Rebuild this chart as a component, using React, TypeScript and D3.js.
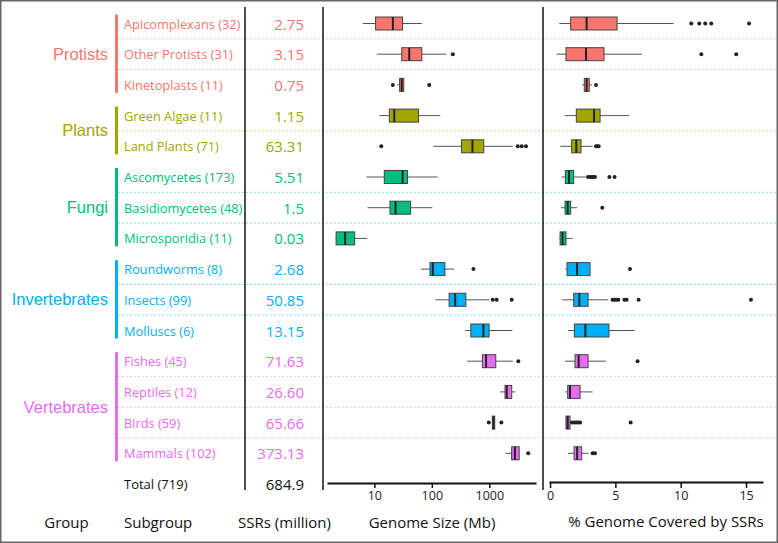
import React, { useEffect, useRef } from "react";
import * as d3 from "d3";

const groups = ["Protists", "Plants", "Fungi", "Invertebrates", "Vertebrates"];
const groupColors = ["#F8766D", "#A3A500", "#00BF7D", "#00B0F6", "#E76BF3"];

const subgroups = [
  "Apicomplexans", "Other Protists", "Kinetoplasts", "Green Algae", "Land Plants",
  "Ascomycetes", "Basidiomycetes", "Microsporidia", "Roundworms", "Insects",
  "Molluscs", "Fishes", "Reptiles", "Birds", "Mammals",
];
const subgroupCounts = [32, 31, 11, 11, 71, 173, 48, 11, 8, 99, 6, 45, 12, 59, 102];
const subgroupGroup = [0, 0, 0, 1, 1, 2, 2, 2, 3, 3, 3, 4, 4, 4, 4];
const ssrMillions = [
  "2.75", "3.15", "0.75", "1.15", "63.31", "5.51", "1.5", "0.03", "2.68", "50.85",
  "13.15", "71.63", "26.60", "65.66", "373.13",
];
const totalLabel = "Total (719)";
const totalSsr = "684.9";

// [lower whisker, q1, median, q3, upper whisker] in Mb
const genomeStats = [
  [6.3, 10.5, 21, 31, 67],
  [11, 30, 40.5, 67, 178],
  [25, 27.5, 30, 32.5, 33],
  [12.2, 18.2, 22.2, 58.8, 140],
  [107, 328, 509, 803, 2560],
  [7.3, 14.9, 31, 37.8, 126],
  [7.6, 18.7, 23.4, 42.7, 102],
  [2.1, 2.16, 3.1, 4.55, 7.5],
  [65, 93, 104, 169, 248],
  [115, 200, 255, 391, 1000],
  [380, 477, 791, 993, 2518],
  [412, 759, 879, 1296, 2560],
  [1540, 1880, 2013, 2456, 2837],
  [1130, 1130, 1185, 1245, 1245],
  [1923, 2449, 2793, 3311, 3311],
];
const genomeOutliers = [
  [], [232], [21, 90], [], [13.2, 3126, 3667, 4353], [], [], [], [530],
  [1148, 1347, 2456], [], [3200], [], [980, 1622], [4753],
];

// [lower whisker, q1, median, q3, upper whisker] in % of genome
const coverageStats = [
  [0.71, 1.58, 2.8, 5.13, 9.46],
  [0.5, 1.22, 2.75, 4.13, 7.04],
  [2.45, 2.62, 2.8, 3.0, 3.21],
  [1.12, 2.01, 3.37, 3.83, 6.07],
  [0.79, 1.65, 2.01, 2.37, 3.26],
  [0.89, 1.17, 1.45, 1.81, 2.75],
  [0.84, 1.15, 1.35, 1.58, 2.07],
  [0.7, 0.77, 0.95, 1.22, 1.73],
  [1.17, 1.3, 2.07, 3.06, 3.06],
  [0.92, 1.81, 2.24, 2.91, 4.46],
  [1.38, 1.86, 2.7, 4.51, 6.47],
  [1.15, 1.91, 2.19, 2.91, 4.28],
  [1.17, 1.35, 1.53, 2.3, 3.26],
  [1.22, 1.22, 1.35, 1.53, 1.6],
  [1.38, 1.84, 2.07, 2.42, 2.95],
];
const coverageOutliers = [
  [10.81, 11.42, 11.88, 12.34, 15.23],
  [11.58, 14.25],
  [3.52],
  [],
  [3.52, 3.62, 3.72],
  [2.91, 3.05, 3.2, 3.31, 3.44, 4.54, 4.94],
  [4.0],
  [],
  [6.12],
  [4.79, 4.92, 5.07, 5.23, 5.69, 5.86, 6.78, 15.38],
  [],
  [6.7],
  [],
  [1.68, 1.86, 2.01, 2.17, 2.3, 6.17],
  [3.26, 3.44],
];

const genomeTicks = [10, 100, 1000];
const coverageTicks = [0, 5, 10, 15];
const columnTitles = ["Group", "Subgroup", "SSRs (million)", "Genome Size (Mb)", "% Genome Covered by SSRs"];

const W = 778;
const H = 543;
const SANS = "'Open Sans', sans-serif";
const ARIAL = "'Liberation Sans', Arial, sans-serif";

export default function App() {
  const gAxisRef = useRef<SVGGElement>(null);
  const cAxisRef = useRef<SVGGElement>(null);

  const rowKeys = [...subgroups, "__total"];
  const y = d3.scalePoint<string>().domain(rowKeys).range([23.5, 23.5 + 15 * 30.7]);
  const xG = d3.scaleLog().domain([1.5, 6500]).range([327, 536]);
  const xC = d3.scaleLinear().domain([-0.08, 16.3]).range([549, 763]);
  const axisY = 483;
  const boxH = 13;

  useEffect(() => {
    const style = (g: any) => {
      g.select(".domain").attr("stroke", "#111").attr("stroke-width", 2);
      g.selectAll(".tick line").attr("stroke", "#111").attr("stroke-width", 1.5);
      g.selectAll(".tick text")
        .attr("font-family", SANS)
        .attr("font-size", 12.5)
        .attr("fill", "#222");
    };
    if (gAxisRef.current) {
      const g = d3.select(gAxisRef.current);
      g.call(
        d3.axisBottom(xG).tickValues(genomeTicks).tickFormat(d3.format("d") as any).tickSize(5).tickSizeOuter(0)
      );
      style(g);
    }
    if (cAxisRef.current) {
      const g = d3.select(cAxisRef.current);
      g.call(d3.axisBottom(xC).tickValues(coverageTicks).tickFormat(d3.format("d") as any).tickSize(6).tickSizeOuter(0));
      style(g);
    }
  }, []);

  const sep: { y: number; color: string }[] = [];
  for (let i = 0; i < subgroups.length - 1; i++) {
    if (subgroupGroup[i] === subgroupGroup[i + 1]) {
      sep.push({ y: ((y(subgroups[i]) as number) + (y(subgroups[i + 1]) as number)) / 2, color: groupColors[subgroupGroup[i]] });
    }
  }

  const groupSpans = groups.map((name, gi) => {
    const idx = subgroupGroup.map((g, i) => (g === gi ? i : -1)).filter((i) => i >= 0);
    const y0 = (y(subgroups[idx[0]]) as number) - 9;
    const y1 = (y(subgroups[idx[idx.length - 1]]) as number) + 8;
    return { name, color: groupColors[gi], y0, y1 };
  });

  const renderBox = (
    stats: number[],
    outs: number[],
    sx: (v: number) => number,
    cy: number,
    color: string,
    key: string
  ) => {
    const [lo, q1, med, q3, hi] = stats;
    return (
      <g key={key}>
        <line x1={sx(lo)} x2={sx(q1)} y1={cy} y2={cy} stroke="#555" strokeWidth={1} />
        <line x1={sx(q3)} x2={sx(hi)} y1={cy} y2={cy} stroke="#555" strokeWidth={1} />
        <rect
          x={sx(q1)}
          y={cy - boxH / 2}
          width={Math.max(1, sx(q3) - sx(q1))}
          height={boxH}
          fill={color}
          stroke="#444"
          strokeWidth={1}
        />
        <line x1={sx(med)} x2={sx(med)} y1={cy - boxH / 2} y2={cy + boxH / 2} stroke="#222" strokeWidth={2} />
        {outs.map((o, j) => (
          <circle key={j} cx={sx(o)} cy={cy} r={2} fill="#222" />
        ))}
      </g>
    );
  };

  return (
    <div style={{ position: "absolute", left: 0, top: 0 }}>
      <svg width={W} height={H} style={{ display: "block" }}>
        <rect x={0} y={0} width={W} height={H} fill="#fff" />
        {/* separators */}
        {sep.map((s, i) => (
          <line
            key={i}
            x1={118}
            x2={W - 2}
            y1={s.y}
            y2={s.y}
            stroke={s.color}
            strokeOpacity={0.45}
            strokeWidth={1}
            strokeDasharray="2,2"
          />
        ))}
        {/* vertical dividers */}
        {[245, 323, 543].map((x) => (
          <line key={x} x1={x} x2={x} y1={7} y2={490} stroke="#111" strokeWidth={1.5} />
        ))}
        {/* group bars and labels */}
        {groupSpans.map((g) => (
          <g key={g.name}>
            <rect x={115} y={g.y0} width={3} height={g.y1 - g.y0} fill={g.color} />
            <text
              x={108}
              y={(g.y0 + g.y1) / 2}
              textAnchor="end"
              dominantBaseline="central"
              fontFamily={ARIAL}
              fontSize={16.5}
              fill={g.color}
            >
              {g.name}
            </text>
          </g>
        ))}
        {/* subgroup labels and SSR values */}
        {subgroups.map((s, i) => {
          const cy = y(s) as number;
          const c = groupColors[subgroupGroup[i]];
          return (
            <g key={s}>
              <text x={124} y={cy} dominantBaseline="central" fontFamily={SANS} fontSize={12.8} fill={c}>
                {`${s} (${subgroupCounts[i]})`}
              </text>
              <text x={304} y={cy} textAnchor="end" dominantBaseline="central" fontFamily={SANS} fontSize={15} fill={c}>
                {ssrMillions[i]}
              </text>
            </g>
          );
        })}
        <text x={124} y={y("__total") as number} dominantBaseline="central" fontFamily={SANS} fontSize={13} fill="#111">
          {totalLabel}
        </text>
        <text x={304} y={y("__total") as number} textAnchor="end" dominantBaseline="central" fontFamily={SANS} fontSize={15} fill="#111">
          {totalSsr}
        </text>
        {/* boxplots */}
        {subgroups.map((s, i) =>
          renderBox(genomeStats[i], genomeOutliers[i], (v) => xG(v), y(s) as number, groupColors[subgroupGroup[i]], "g" + i)
        )}
        {subgroups.map((s, i) =>
          renderBox(coverageStats[i], coverageOutliers[i], (v) => xC(v), y(s) as number, groupColors[subgroupGroup[i]], "c" + i)
        )}
        {/* axes */}
        <g ref={gAxisRef} transform={`translate(0,${axisY})`} />
        <g ref={cAxisRef} transform={`translate(0,${axisY - 1})`} />
        {/* column titles */}
        <text x={66.5} y={522} textAnchor="middle" dominantBaseline="central" fontFamily={SANS} fontSize={15} fill="#111">
          {columnTitles[0]}
        </text>
        <text x={124} y={522} dominantBaseline="central" fontFamily={SANS} fontSize={15} fill="#111">
          {columnTitles[1]}
        </text>
        <text x={284.5} y={522} textAnchor="middle" dominantBaseline="central" fontFamily={SANS} fontSize={15} fill="#111">
          {columnTitles[2]}
        </text>
        <text x={432} y={522} textAnchor="middle" dominantBaseline="central" fontFamily={SANS} fontSize={15} fill="#111">
          {columnTitles[3]}
        </text>
        <text x={666} y={521} textAnchor="middle" dominantBaseline="central" fontFamily={SANS} fontSize={15} fill="#111">
          {columnTitles[4]}
        </text>
        {/* outer frame */}
        <rect x={0.75} y={0.75} width={W - 1.5} height={H - 1.5} fill="none" stroke="#666" strokeWidth={1.5} />
      </svg>
    </div>
  );
}
